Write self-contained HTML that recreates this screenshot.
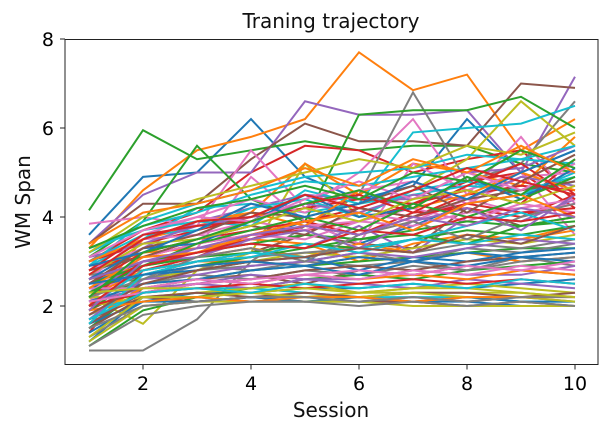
<!DOCTYPE html>
<html><head><meta charset="utf-8"><style>
body{margin:0;background:#fff;}
svg{display:block;font-family:"DejaVu Sans","Liberation Sans",sans-serif;}
</style></head><body>
<svg id="chart" width="615" height="429" viewBox="0 0 615 429">
<rect x="0" y="0" width="615" height="429" fill="#fff"/>
<g id="lines"></g>
<rect x="65" y="39.5" width="533" height="325" fill="none" stroke="#222" stroke-width="1"/>
<g id="axes"></g>
<text x="331" y="28" font-size="20" text-anchor="middle" fill="#111">Traning trajectory</text>
<text x="331" y="417" font-size="20" text-anchor="middle" fill="#111">Session</text>
<text transform="translate(30,202) rotate(-90)" font-size="20" text-anchor="middle" fill="#111">WM Span</text>
</svg>
<script>
const sessions=[1,2,3,4,5,6,7,8,9,10];
const xTicks=[2,4,6,8,10];
const yTicks=[2,4,6,8];
const colors=["#1f77b4","#ff7f0e","#2ca02c","#d62728","#9467bd","#8c564b","#e377c2","#7f7f7f","#bcbd22","#17becf"];
const series=[
[3.6,4.9,5.0,6.2,4.9,4.4,4.7,6.2,5.0,5.5],
[3.3,4.6,5.5,5.8,6.2,7.7,6.85,7.2,5.5,6.2],
[4.15,5.95,5.3,5.5,5.7,5.5,5.6,5.6,5.2,5.0],
[3.0,3.7,4.1,5.0,5.6,5.5,5.0,5.3,5.5,4.5],
[3.4,4.5,5.0,5.0,6.6,6.3,6.3,6.4,5.0,7.15],
[3.4,4.3,4.3,5.3,6.1,5.7,5.7,5.6,7.0,6.9],
[3.85,4.0,3.8,5.5,4.2,5.0,6.2,4.5,5.8,4.3],
[1.0,1.0,1.7,3.0,3.8,4.5,6.8,4.8,5.2,6.6],
[2.2,1.6,2.8,3.2,5.2,4.0,4.6,5.3,6.6,5.6],
[2.9,3.5,4.2,4.3,4.1,4.3,5.9,6.0,6.1,6.5],
[2.5,3.0,3.2,3.5,3.9,3.4,3.8,4.3,4.5,4.8],
[2.0,3.5,3.8,4.1,5.2,4.5,5.2,5.0,4.7,5.8],
[3.1,3.9,5.6,4.4,3.9,6.3,6.4,6.4,6.7,6.0],
[1.4,2.8,3.1,3.6,3.7,3.9,4.3,4.8,5.0,4.2],
[2.7,3.3,3.9,4.2,4.5,4.4,4.4,5.0,5.1,5.6],
[2.3,2.7,3.0,3.2,3.6,3.4,3.3,4.2,3.8,4.0],
[2.1,3.0,3.3,4.9,3.9,3.4,5.2,4.6,5.0,3.6],
[2.5,2.6,2.8,2.9,3.0,2.9,3.0,2.8,3.1,2.9],
[2.2,2.2,2.2,2.3,2.2,2.3,2.3,2.3,2.3,2.2],
[1.8,2.3,2.4,2.4,2.3,2.2,2.2,2.2,2.1,2.1],
[1.2,2.2,2.2,2.1,2.1,2.1,2.1,2.1,2.0,2.0],
[2.8,3.2,3.3,3.5,3.4,3.0,3.4,3.6,3.5,3.8],
[1.5,2.4,2.6,2.8,2.9,3.0,3.1,3.2,3.3,3.3],
[3.0,3.4,3.7,4.0,4.2,4.4,4.3,4.6,4.3,5.3],
[2.4,2.9,3.3,3.4,3.3,3.8,3.2,4.0,3.9,4.4],
[1.9,2.5,2.6,2.7,2.5,2.8,2.7,2.9,2.8,2.7],
[2.6,3.6,4.0,4.4,4.1,4.6,4.8,4.3,4.9,5.0],
[1.3,2.0,2.1,2.2,2.2,2.1,2.2,2.1,2.2,2.1],
[2.0,2.6,2.8,3.0,3.2,3.1,3.3,3.5,3.4,3.6],
[3.2,3.8,4.1,4.5,4.8,4.7,4.9,5.1,5.3,5.2],
[1.6,2.1,2.3,2.3,2.4,2.4,2.5,2.4,2.5,2.6],
[2.2,2.8,3.0,3.0,2.9,3.1,3.0,3.2,3.0,3.1],
[1.1,1.9,2.2,2.4,2.6,2.7,2.6,2.8,2.9,3.0],
[2.9,3.1,3.4,3.6,3.9,3.6,4.1,4.2,4.0,4.5],
[2.4,2.3,2.5,2.4,2.6,2.5,2.4,2.6,2.5,2.4],
[1.7,2.2,2.1,2.2,2.1,2.1,2.1,2.0,2.1,2.0],
[2.7,3.5,3.6,3.9,3.7,4.1,3.9,4.4,4.1,4.3],
[2.3,2.5,2.7,2.6,2.8,2.7,2.9,2.8,3.0,3.1],
[2.0,2.2,2.3,2.4,2.5,2.3,2.4,2.5,2.4,2.3],
[3.3,3.7,3.9,3.8,4.6,4.3,4.5,4.7,4.6,4.9],
[1.4,2.1,2.1,2.2,2.1,2.2,2.1,2.2,2.1,2.1],
[2.6,2.9,3.1,3.3,3.1,3.4,3.2,3.6,3.5,3.7],
[1.9,2.7,2.9,3.1,3.3,3.5,3.6,3.4,3.8,3.9],
[2.5,3.2,3.5,3.7,3.9,4.2,4.0,4.5,4.7,4.6],
[2.1,2.4,2.5,2.7,2.6,2.6,2.8,2.7,2.7,2.9],
[1.5,2.2,2.3,2.2,2.3,2.2,2.3,2.3,2.2,2.3],
[2.8,3.3,3.6,3.5,3.8,3.9,4.2,3.9,4.3,4.1],
[2.2,2.6,2.9,2.8,3.0,3.2,3.0,3.3,3.2,3.4],
[1.2,2.0,2.1,2.1,2.1,2.1,2.0,2.0,2.0,2.0],
[3.0,3.6,3.7,4.2,4.4,4.0,4.6,4.8,4.5,5.0],
[2.4,2.7,2.8,3.0,3.1,2.8,3.1,3.0,3.2,3.3],
[1.8,2.4,2.6,2.5,2.7,2.6,2.7,2.6,2.8,2.7],
[2.6,3.0,3.2,3.4,3.6,3.5,3.7,3.9,3.8,4.0],
[2.0,2.3,2.4,2.5,2.4,2.5,2.6,2.5,2.6,2.5],
[3.1,3.4,3.8,4.0,4.3,4.1,4.5,4.4,4.9,4.7],
[1.6,2.3,2.5,2.6,2.8,2.9,2.8,3.0,3.1,3.2],
[2.3,3.1,3.4,3.6,3.5,3.9,3.8,4.1,4.2,4.4],
[2.7,2.8,3.0,3.1,3.2,3.3,3.2,3.4,3.3,3.5],
[1.3,2.2,2.2,2.3,2.2,2.2,2.3,2.2,2.2,2.1],
[2.9,3.9,4.3,4.6,4.9,5.0,5.1,5.4,5.3,5.6],
[2.1,2.5,2.6,2.8,2.9,2.7,3.0,2.9,3.1,3.0],
[1.9,2.1,2.2,2.1,2.2,2.2,2.1,2.2,2.2,2.2],
[2.5,2.9,3.1,3.2,3.4,3.3,3.5,3.7,3.6,3.8],
[2.2,3.0,3.2,3.5,3.8,3.6,4.0,4.3,4.1,4.2],
[1.7,2.6,2.7,2.9,3.0,3.2,3.1,3.3,3.5,3.4],
[2.8,3.1,3.5,3.8,3.6,4.2,4.0,4.4,4.6,4.8],
[2.4,2.4,2.6,2.5,2.7,2.6,2.8,2.7,2.9,2.8],
[1.1,1.8,2.0,2.1,2.1,2.0,2.1,2.0,2.1,2.0],
[3.2,4.0,4.4,4.7,5.0,5.3,5.1,5.6,5.4,5.9],
[2.0,2.8,3.0,3.2,3.1,3.3,3.5,3.4,3.6,3.5],
[2.6,3.3,3.4,3.9,4.5,4.0,4.2,4.9,4.4,5.1],
[3.0,3.5,3.9,4.1,3.8,4.6,4.2,4.5,5.0,4.6],
[2.3,2.9,3.4,3.7,4.0,3.7,4.3,4.0,4.4,4.9],
[2.8,3.6,3.8,3.9,4.3,4.5,4.1,4.7,5.2,4.4],
[1.9,3.0,3.1,3.5,3.7,3.3,3.9,4.2,3.7,4.5],
[2.5,3.3,3.6,4.1,4.0,4.3,4.7,4.1,4.8,5.4],
[3.1,3.7,4.0,3.9,4.4,4.8,4.4,5.0,4.6,5.2],
[2.2,2.6,3.1,3.3,3.0,3.6,3.9,3.5,4.0,4.3],
[2.7,3.4,3.5,3.8,4.2,3.9,4.4,4.6,4.3,4.7],
[1.6,2.7,3.0,3.1,3.4,3.2,3.5,3.8,4.1,3.7],
[2.9,3.2,3.7,4.3,4.0,4.3,4.8,4.4,5.0,5.5],
[2.4,3.1,3.2,3.6,3.9,4.1,3.7,4.3,4.5,4.0],
[3.3,3.8,4.2,4.4,4.7,4.4,5.0,4.8,5.5,5.1],
[2.0,2.9,3.2,3.4,3.3,3.7,3.6,4.0,3.9,4.1],
[2.6,3.0,3.3,3.6,3.8,3.6,4.0,3.8,4.2,4.0],
[1.8,2.5,2.8,3.0,3.1,3.3,3.2,3.6,3.4,3.8],
[2.1,2.3,2.5,2.6,2.7,2.8,2.7,2.9,2.8,3.0],
[1.5,2.0,2.1,2.2,2.2,2.1,2.2,2.1,2.2,2.2],
[2.3,2.4,2.4,2.3,2.4,2.3,2.4,2.4,2.3,2.2],
[1.7,2.3,2.4,2.3,2.5,2.4,2.5,2.4,2.6,2.5],
[2.5,2.7,2.9,3.0,2.9,3.1,3.0,3.2,3.1,3.2],
[3.4,4.1,4.3,4.6,5.1,4.7,5.3,5.0,5.6,5.0],
[2.2,3.2,3.5,3.9,4.3,4.6,4.2,4.9,4.5,5.3],
[2.7,3.5,3.9,4.0,4.5,4.2,4.6,5.1,4.8,4.5]
];
const X0=89,XS=54,Y0=306,YS=44.5;
const xs=v=>X0+(v-1)*XS;
const ys=v=>Y0-(v-2)*YS;
const ns="http://www.w3.org/2000/svg";
const g=document.getElementById('lines');
series.forEach((s,i)=>{
  const p=document.createElementNS(ns,'polyline');
  p.setAttribute('points',s.map((v,j)=>xs(sessions[j]).toFixed(1)+','+ys(v).toFixed(1)).join(' '));
  p.setAttribute('fill','none');
  p.setAttribute('stroke',colors[i%10]);
  p.setAttribute('stroke-width','2');
  
  
  g.appendChild(p);
});
const ax=document.getElementById('axes');
xTicks.forEach(t=>{
  const l=document.createElementNS(ns,'line');
  l.setAttribute('x1',xs(t));l.setAttribute('x2',xs(t));l.setAttribute('y1',364.5);l.setAttribute('y2',369.5);l.setAttribute('stroke','#222');
  
  
  ax.appendChild(l);
  const tx=document.createElementNS(ns,'text');
  tx.setAttribute('x',xs(t));tx.setAttribute('y',390);tx.setAttribute('font-size','19');tx.setAttribute('text-anchor','middle');
  tx.textContent=t;
  
  
  ax.appendChild(tx);
});
yTicks.forEach(t=>{
  const l=document.createElementNS(ns,'line');
  l.setAttribute('x1',60);l.setAttribute('x2',65);l.setAttribute('y1',ys(t));l.setAttribute('y2',ys(t));l.setAttribute('stroke','#222');
  
  
  ax.appendChild(l);
  const tx=document.createElementNS(ns,'text');
  tx.setAttribute('x',54);tx.setAttribute('y',ys(t)+7);tx.setAttribute('font-size','19');tx.setAttribute('text-anchor','end');
  tx.textContent=t;
  
  
  ax.appendChild(tx);
});
</script>
</body></html>
